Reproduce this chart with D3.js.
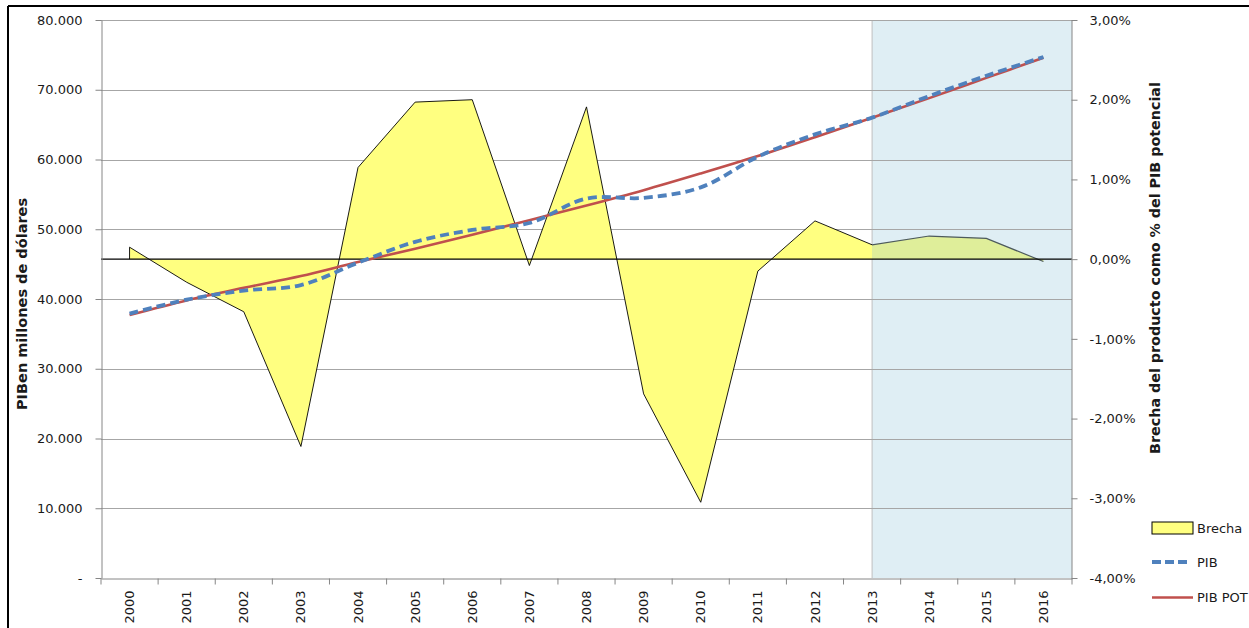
<!DOCTYPE html>
<html>
<head>
<meta charset="utf-8">
<script src="https://cdn.jsdelivr.net/npm/d3@7"></script>
<style>
  body { margin: 0; background: #fff; }
  text { font-family: "DejaVu Sans", Verdana, sans-serif; fill: #1a1a1a; }
</style>
</head>
<body>
<div id="chart"></div>
<script>
// data
var years = ["2000","2001","2002","2003","2004","2005","2006","2007","2008",
             "2009","2010","2011","2012","2013","2014","2015","2016"];
// output gap, % of potential GDP
var brecha = [0.15, -0.29, -0.66, -2.35, 1.15, 1.97, 2.00, -0.08, 1.91,
              -1.69, -3.05, -0.15, 0.48, 0.18, 0.29, 0.26, -0.03];
// GDP, millions of dollars
var pib = [37900, 39900, 41200, 42000, 45200, 48200, 49900, 50900, 54400,
           54500, 56000, 60400, 63600, 66000, 69100, 72000, 74700];
var pibPot = [37700, 39800, 41600, 43300, 45300, 47200, 49200, 51300, 53400,
              55600, 58000, 60500, 63200, 66000, 68800, 71700, 74600];
var leftTicks = [0, 10000, 20000, 30000, 40000, 50000, 60000, 70000, 80000];
var rightTicks = [-4, -3, -2, -1, 0, 1, 2, 3];
var forecastStart = "2013";

var W = 1249, H = 628;
var pLeft = 101, pRight = 1072, pTop = 20, pBottom = 578;

var svg = d3.select("#chart").append("svg")
    .attr("width", W)
    .attr("height", H);

// outer frame (cropped at right / bottom)
svg.append("line").attr("x1", 8).attr("x2", W).attr("y1", 6).attr("y2", 6)
  .attr("stroke", "#000").attr("stroke-width", 2);
svg.append("line").attr("x1", 8).attr("x2", 8).attr("y1", 6).attr("y2", H)
  .attr("stroke", "#000").attr("stroke-width", 2);

var x = d3.scaleBand().domain(years).range([pLeft, pRight]).padding(0);
var cx = function(d) { return x(d) + x.bandwidth() / 2; };
var y = d3.scaleLinear().domain([0, 80000]).range([pBottom, pTop]);
var y2 = d3.scaleLinear().domain([-4, 3]).range([pBottom, pTop]);

// shaded projection zone
svg.append("rect")
  .attr("x", cx(forecastStart))
  .attr("y", pTop)
  .attr("width", pRight - cx(forecastStart))
  .attr("height", pBottom - pTop)
  .attr("fill", "#dfeef4");
svg.append("line")
  .attr("x1", cx(forecastStart)).attr("x2", cx(forecastStart))
  .attr("y1", pTop).attr("y2", pBottom)
  .attr("stroke", "#bfbfbf");

// gridlines
svg.append("g").selectAll("line")
  .data(leftTicks.filter(function(d) { return d > 0; }))
  .enter().append("line")
  .attr("x1", pLeft).attr("x2", pRight)
  .attr("y1", function(d) { return Math.round(y(d)) + 0.5; })
  .attr("y2", function(d) { return Math.round(y(d)) + 0.5; })
  .attr("stroke", "#a6a6a6");

// gap area, two clips so the part in the shaded zone gets its own tint
var defs = svg.append("defs");
defs.append("clipPath").attr("id", "clipPast").append("rect")
  .attr("x", 0).attr("y", 0).attr("width", cx(forecastStart)).attr("height", H);
defs.append("clipPath").attr("id", "clipFut").append("rect")
  .attr("x", cx(forecastStart)).attr("y", 0).attr("width", W).attr("height", H);

var gapData = years.map(function(d, i) { return { year: d, v: brecha[i] }; });
var area = d3.area()
  .x(function(d) { return cx(d.year); })
  .y0(y2(0))
  .y1(function(d) { return y2(d.v); });
var gapLine = d3.line()
  .x(function(d) { return cx(d.year); })
  .y(function(d) { return y2(d.v); });

svg.append("path").datum(gapData)
  .attr("clip-path", "url(#clipPast)")
  .attr("d", area).attr("fill", "#ffff80");
svg.append("path").datum(gapData)
  .attr("clip-path", "url(#clipFut)")
  .attr("d", area).attr("fill", "#dfee9a");
svg.append("path").datum(gapData)
  .attr("clip-path", "url(#clipPast)")
  .attr("d", gapLine).attr("fill", "none").attr("stroke", "#000").attr("stroke-width", 0.9);
svg.append("path").datum(gapData)
  .attr("clip-path", "url(#clipFut)")
  .attr("d", gapLine).attr("fill", "none").attr("stroke", "#4d5a5c").attr("stroke-width", 1.2);
// first point vertical edge
svg.append("line")
  .attr("x1", cx(years[0])).attr("x2", cx(years[0]))
  .attr("y1", y2(0)).attr("y2", y2(brecha[0]))
  .attr("stroke", "#000").attr("stroke-width", 0.9);

// zero line of the gap axis
svg.append("line")
  .attr("x1", pLeft).attr("x2", pRight)
  .attr("y1", y2(0)).attr("y2", y2(0))
  .attr("stroke", "#000").attr("stroke-width", 1.3);

// GDP lines
var line = d3.line()
  .x(function(d, i) { return cx(years[i]); })
  .y(function(d) { return y(d); })
  .curve(d3.curveCatmullRom.alpha(0.5));

svg.append("path").datum(pibPot)
  .attr("d", line).attr("fill", "none")
  .attr("stroke", "#c0504d").attr("stroke-width", 2.6);
svg.append("path").datum(pib)
  .attr("d", line).attr("fill", "none")
  .attr("stroke", "#4f81bd").attr("stroke-width", 3.8)
  .attr("stroke-dasharray", "9,5");

// axes
var fmtLeft = function(d) { return d === 0 ? "-" : d3.format(",")(d).replace(/,/g, "."); };
var fmtRight = function(d) { return d.toFixed(2).replace(".", ",") + "%"; };

var gL = svg.append("g")
  .attr("transform", "translate(" + (pLeft + 0.5) + ",0)")
  .call(d3.axisLeft(y).tickValues(leftTicks).tickFormat(fmtLeft).tickSize(6).tickPadding(13).tickSizeOuter(0));
var gR = svg.append("g")
  .attr("transform", "translate(" + (pRight - 0.5) + ",0)")
  .call(d3.axisRight(y2).tickValues(rightTicks).tickFormat(fmtRight).tickSize(6).tickPadding(12).tickSizeOuter(0));
var gX = svg.append("g")
  .attr("transform", "translate(0," + (pBottom + 0.5) + ")")
  .call(d3.axisBottom(x).tickSize(0).tickPadding(0));

[gL, gR, gX].forEach(function(g) {
  g.selectAll("path.domain").attr("stroke", "#868686");
  g.selectAll(".tick line").attr("stroke", "#868686");
  g.selectAll("text").style("font-size", "13px").style("font-family", "'DejaVu Sans', Verdana, sans-serif").attr("fill", "#1a1a1a");
});

// x ticks at category boundaries
gX.selectAll(".tick line").remove();
gX.append("g").selectAll("line")
  .data(years.concat(["end"]))
  .enter().append("line")
  .attr("x1", function(d, i) { return pLeft + i * x.bandwidth(); })
  .attr("x2", function(d, i) { return pLeft + i * x.bandwidth(); })
  .attr("y1", 0).attr("y2", 6)
  .attr("stroke", "#868686");
gX.selectAll(".tick text")
  .attr("transform", "rotate(-90)")
  .attr("text-anchor", "end")
  .attr("x", -12)
  .attr("y", 0)
  .attr("dy", "0.35em");

// axis titles
svg.append("text")
  .attr("transform", "translate(27,304) rotate(-90)")
  .attr("text-anchor", "middle")
  .style("font-size", "14.5px").style("font-weight", "bold")
  .text("PIBen millones de dólares");
svg.append("text")
  .attr("transform", "translate(1160,268) rotate(-90)")
  .attr("text-anchor", "middle")
  .style("font-size", "14.3px").style("font-weight", "bold")
  .text("Brecha del producto como % del PIB potencial");

// legend
var lg = svg.append("g").attr("transform", "translate(1152,0)");
lg.append("rect").attr("x", 0).attr("y", 522).attr("width", 41).attr("height", 12)
  .attr("fill", "#ffff80").attr("stroke", "#000");
lg.append("line").attr("x1", 0).attr("x2", 36).attr("y1", 562).attr("y2", 562)
  .attr("stroke", "#4f81bd").attr("stroke-width", 3.8).attr("stroke-dasharray", "9,4");
lg.append("line").attr("x1", 0).attr("x2", 41).attr("y1", 597.5).attr("y2", 597.5)
  .attr("stroke", "#c0504d").attr("stroke-width", 2.4);
var legendNames = ["Brecha", "PIB", "PIB POT"];
var legendY = [528, 562, 597];
lg.selectAll("text.lab").data(legendNames).enter().append("text")
  .attr("class", "lab")
  .attr("x", 45)
  .attr("y", function(d, i) { return legendY[i]; })
  .attr("dy", "0.35em")
  .style("font-size", "13px")
  .text(function(d) { return d; });
</script>
</body>
</html>
